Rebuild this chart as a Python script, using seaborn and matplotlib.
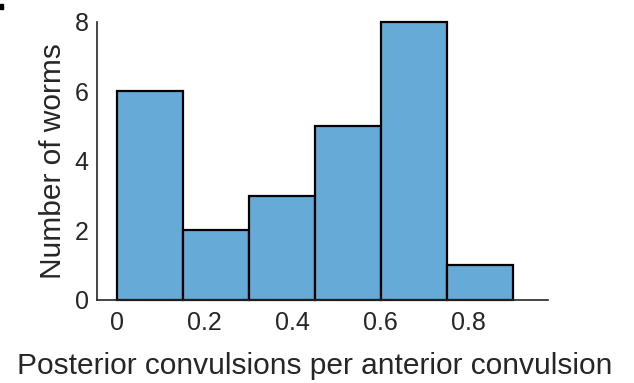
import matplotlib.pyplot as plt
import seaborn as sns

# histogram: 6 bins of width 0.15
bin_edges = [0, 0.15, 0.3, 0.45, 0.6, 0.75, 0.9]
bin_counts = [6, 2, 3, 5, 8, 1]
x_ticks = [0, 0.2, 0.4, 0.6, 0.8]
x_tick_labels = ["0", "0.2", "0.4", "0.6", "0.8"]
y_ticks = [0, 2, 4, 6, 8]

BAR_COLOR = "#66aad7"
INK = "#262626"

sns.set_style("white")
plt.rcParams["font.family"] = ["Liberation Sans", "DejaVu Sans"]

fig = plt.figure(figsize=(6.34, 3.83), dpi=100)
ax = fig.add_axes([0.153, 0.217, 0.711, 0.726])

centers = [(a + b) / 2 for a, b in zip(bin_edges[:-1], bin_edges[1:])]
sns.histplot(
    x=centers,
    weights=bin_counts,
    bins=bin_edges,
    color=BAR_COLOR,
    alpha=1,
    edgecolor="black",
    linewidth=1.6,
    ax=ax,
)
for p in ax.patches:
    p.set_clip_on(False)

ax.set_xlim(-0.045, 0.98)
ax.set_ylim(0, 8)
ax.set_xticks(x_ticks)
ax.set_xticklabels(x_tick_labels)
ax.set_yticks(y_ticks)
ax.tick_params(direction="in", length=4, width=1, labelsize=18, colors=INK, pad=8)
ax.tick_params(axis="y", pad=6)
ax.set_xlabel("Posterior convulsions per anterior convulsion", fontsize=21.5, color=INK)
ax.set_ylabel("Number of worms", fontsize=21.5, color=INK)
# label positions nudged to where they sit in the original
ax.xaxis.set_label_coords(0.483, -0.186)
ax.yaxis.set_label_coords(-0.066, 0.5)

sns.despine(ax=ax)
for side in ["left", "bottom"]:
    ax.spines[side].set_linewidth(1.2)
    ax.spines[side].set_color(INK)

# remnant of the panel letter in the corner
fig.patches.append(plt.Rectangle((0, 0.9765), 0.0055, 0.013, transform=fig.transFigure,
                                 color="black", figure=fig))

fig.savefig("out.png", dpi=100)
